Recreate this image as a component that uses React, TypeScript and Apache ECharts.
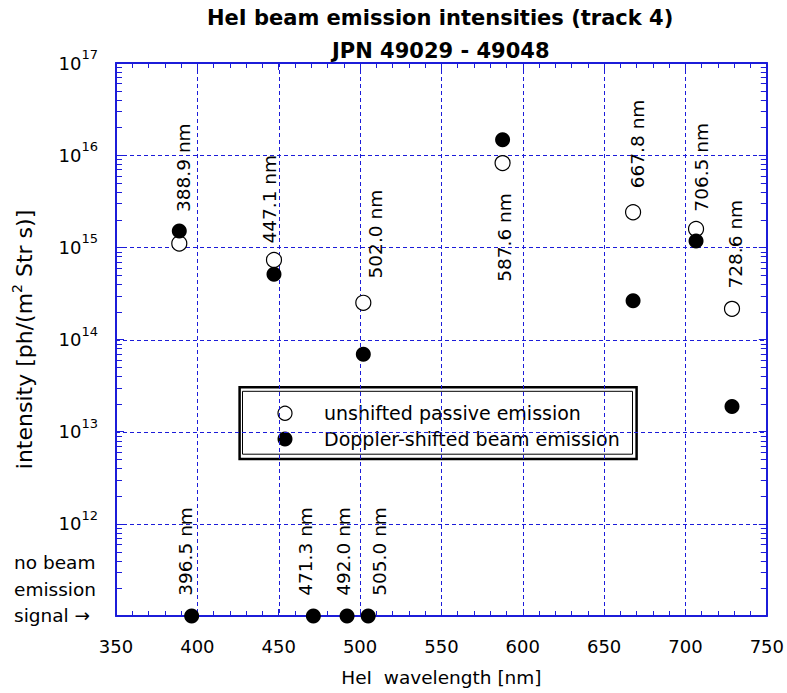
import React, { useEffect, useRef } from "react";
import * as echarts from "echarts";

// ---- data ----
const unshiftedWavelengths = [388.9, 447.1, 502.0, 587.6, 667.8, 706.5, 728.6];
const unshiftedIntensity = [1.1e15, 7.3e14, 2.5e14, 8.2e15, 2.4e15, 1.58e15, 2.15e14];

const beamWavelengths = [388.9, 447.1, 502.0, 587.6, 667.8, 706.5, 728.6];
const beamIntensity = [1.5e15, 5.1e14, 6.9e13, 1.47e16, 2.63e14, 1.17e15, 1.88e13];

// lines with no beam-emission signal, drawn on the bottom axis
const noSignalWavelengths = [396.5, 471.3, 492.0, 505.0];
const noSignalLevel = 1e11;

// wavelength annotations (rotated texts)
const lineLabels = ["388.9 nm", "447.1 nm", "502.0 nm", "587.6 nm", "667.8 nm", "706.5 nm", "728.6 nm", "396.5 nm", "471.3 nm", "492.0 nm", "505.0 nm"];
const lineLabelWavelengths = [388.9, 447.1, 502.0, 587.6, 667.8, 706.5, 728.6, 396.5, 471.3, 492.0, 505.0];
const lineLabelStart = [2.42e15, 1.1e15, 4.6e14, 4.23e14, 4.38e15, 2.44e15, 3.58e14, 1.66e11, 1.66e11, 1.66e11, 1.66e11];
const lineLabelDx = [4, -4, 12, 2, 4, 5, 3, -6, -8, -4, 11];

// axis ticks / grid
const xTickMin = 350;
const xTickMax = 750;
const xTickStep = 50;
const xGridValues = [400, 450, 500, 550, 600, 650, 700];
const yMin = 1e11;
const yMax = 1e17;
const yGridValues = [1e12, 1e13, 1e14, 1e15, 1e16];

const legendNames = ["unshifted passive emission", "Doppler-shifted beam emission"];

export default function App() {
  const ref = useRef<HTMLDivElement>(null);

  useEffect(() => {
    const chart = echarts.init(ref.current!, null, { renderer: "svg" });
    const FONT = '"DejaVu Sans", "Liberation Sans", sans-serif';
    const AXIS = "#1c1cd9";
    const GRID = "#1c1cd9";
    const DASH = 4;
    const GAP = 3;

    const minorY: number[][] = [];
    for (let e = 11; e < 17; e++) {
      for (let k = 2; k <= 9; k++) minorY.push([xTickMin, k * Math.pow(10, e)]);
    }
    const gridData: number[][] = [
      ...xGridValues.map((x) => [x, yMin, 0]),
      ...yGridValues.map((y) => [xTickMin, y, 1]),
    ];

    const axisLine = () => ({ show: true, onZero: false, lineStyle: { color: AXIS, width: 2 } });
    const axisTick = (len: number) => ({ show: true, inside: true, length: len, lineStyle: { color: AXIS, width: 1 } });
    const minorTick = () => ({ show: true, splitNumber: 5, length: 5, lineStyle: { color: AXIS, width: 1 } });
    const noSplit = () => ({ show: false });

    const option: any = {
      animation: false,
      backgroundColor: "#ffffff",
      title: [
        {
          text: "HeI beam emission intensities (track 4)",
          left: 207,
          top: 6,
          padding: 0,
          textStyle: { fontSize: 21, fontWeight: "bold", fontFamily: FONT, color: "#000", lineHeight: 24 },
        },
        {
          text: "JPN 49029 - 49048",
          left: 332,
          top: 39,
          padding: 0,
          textStyle: { fontSize: 21, fontWeight: "bold", fontFamily: FONT, color: "#000", lineHeight: 24 },
        },
      ],
      grid: { left: 116, right: 19, top: 63, bottom: 77 },
      xAxis: [
        {
          type: "value",
          position: "bottom",
          min: xTickMin,
          max: xTickMax,
          interval: xTickStep,
          axisLine: axisLine(),
          axisTick: axisTick(7),
          minorTick: minorTick(),
          splitLine: noSplit(),
          axisLabel: { color: "#000", fontSize: 18, fontFamily: FONT, margin: 21 },
          name: "HeI  wavelength [nm]",
          nameLocation: "middle",
          nameGap: 52,
          nameTextStyle: { color: "#000", fontSize: 18.5, fontFamily: FONT },
        },
        {
          type: "value",
          position: "top",
          min: xTickMin,
          max: xTickMax,
          interval: xTickStep,
          axisLine: axisLine(),
          axisTick: axisTick(7),
          minorTick: minorTick(),
          splitLine: noSplit(),
          axisLabel: { show: false },
        },
      ],
      yAxis: [
        {
          type: "log",
          logBase: 10,
          position: "left",
          min: yMin,
          max: yMax,
          axisLine: axisLine(),
          axisTick: axisTick(8),
          splitLine: noSplit(),
          axisLabel: {
            margin: 18,
            color: "#000",
            fontFamily: FONT,
            formatter: (v: number) => {
              const e = Math.round(Math.log10(v));
              if (e <= 11) return "";
              return `{b|10}{s|${e}}`;
            },
            rich: {
              b: { fontSize: 18, fontFamily: FONT, color: "#000" },
              s: { fontSize: 13, fontFamily: FONT, color: "#000", padding: [0, 0, 17, 0] },
            },
          },
          name: "intensity [ph/(m{sup|2} Str s)]",
          nameLocation: "middle",
          nameRotate: 90,
          nameGap: 77,
          nameTextStyle: {
            color: "#000",
            fontSize: 22,
            fontFamily: FONT,
            rich: { sup: { fontSize: 14, fontFamily: FONT, color: "#000", padding: [0, 0, 15, 0] } },
          },
        },
        {
          type: "log",
          logBase: 10,
          position: "right",
          min: yMin,
          max: yMax,
          axisLine: axisLine(),
          axisTick: axisTick(8),
          splitLine: noSplit(),
          axisLabel: { show: false },
        },
      ],
      series: [
        {
          type: "custom",
          name: "grid lines",
          silent: true,
          z: 1,
          data: gridData,
          renderItem: (params: any, api: any) => {
            const cs = params.coordSys;
            const p = api.coord([api.value(0), api.value(1)]);
            const vertical = api.value(2) === 0;
            const children: any[] = [];
            if (vertical) {
              const x = Math.round(p[0]) + 0.5;
              const end = cs.y + cs.height;
              for (let y = cs.y; y < end; y += DASH + GAP) {
                children.push({ type: "line", shape: { x1: x, y1: y, x2: x, y2: Math.min(y + DASH, end) }, style: { stroke: GRID, lineWidth: 1 } });
              }
            } else {
              const y = Math.round(p[1]) + 0.5;
              const end = cs.x + cs.width;
              for (let x = cs.x; x < end; x += DASH + GAP) {
                children.push({ type: "line", shape: { x1: x, y1: y, x2: Math.min(x + DASH, end), y2: y }, style: { stroke: GRID, lineWidth: 1 } });
              }
            }
            return { type: "group", children };
          },
        },
        {
          type: "custom",
          name: "minor log ticks",
          silent: true,
          z: 3,
          data: minorY,
          renderItem: (params: any, api: any) => {
            const cs = params.coordSys;
            const p = api.coord([api.value(0), api.value(1)]);
            const y = Math.round(p[1]) + 0.5;
            return {
              type: "group",
              children: [
                { type: "line", shape: { x1: cs.x, y1: y, x2: cs.x + 6, y2: y }, style: { stroke: AXIS, lineWidth: 1 } },
                { type: "line", shape: { x1: cs.x + cs.width - 6, y1: y, x2: cs.x + cs.width, y2: y }, style: { stroke: AXIS, lineWidth: 1 } },
              ],
            };
          },
        },
        {
          type: "scatter",
          name: legendNames[0],
          symbol: "circle",
          symbolSize: 15,
          clip: false,
          z: 5,
          itemStyle: { color: "#ffffff", borderColor: "#000000", borderWidth: 1.2, opacity: 1 },
          data: unshiftedWavelengths.map((w, i) => [w, unshiftedIntensity[i]]),
        },
        {
          type: "scatter",
          name: legendNames[1],
          symbol: "circle",
          symbolSize: 15,
          clip: false,
          z: 6,
          itemStyle: { color: "#000000", opacity: 1 },
          data: beamWavelengths.map((w, i) => [w, beamIntensity[i]]),
        },
        {
          type: "scatter",
          name: "no beam emission signal",
          symbol: "circle",
          symbolSize: 15,
          clip: false,
          z: 6,
          itemStyle: { color: "#000000", opacity: 1 },
          data: noSignalWavelengths.map((w) => [w, noSignalLevel]),
        },
        {
          type: "custom",
          name: "line labels",
          silent: true,
          z: 7,
          clip: false,
          data: lineLabels.map((_, i) => [lineLabelWavelengths[i], lineLabelStart[i], i]),
          renderItem: (_params: any, api: any) => {
            const i = api.value(2);
            const p = api.coord([api.value(0), api.value(1)]);
            return {
              type: "text",
              x: p[0] + lineLabelDx[i],
              y: p[1],
              rotation: Math.PI / 2,
              style: {
                text: lineLabels[i],
                fontSize: 18.5,
                fontFamily: FONT,
                fill: "#000",
                align: "left",
                verticalAlign: "middle",
              },
            };
          },
        },
      ],
      graphic: [
        {
          type: "group",
          z: 100,
          children: [
            { type: "rect", shape: { x: 239.6, y: 387.3, width: 397, height: 71.7 }, style: { fill: "#fff", stroke: "#000", lineWidth: 2.5 } },
            { type: "rect", shape: { x: 242.5, y: 391.3, width: 390, height: 62.9 }, style: { fill: "none", stroke: "#000", lineWidth: 1 } },
            { type: "circle", shape: { cx: 285, cy: 413.3, r: 7 }, style: { fill: "#fff", stroke: "#000", lineWidth: 1.2 } },
            { type: "circle", shape: { cx: 285, cy: 439, r: 7.5 }, style: { fill: "#000" } },
            { type: "text", x: 324, y: 413.3, style: { text: legendNames[0], fontSize: 19, fontFamily: FONT, fill: "#000", verticalAlign: "middle", align: "left" } },
            { type: "text", x: 324, y: 439, style: { text: legendNames[1], fontSize: 19, fontFamily: FONT, fill: "#000", verticalAlign: "middle", align: "left" } },
          ],
        },
        {
          type: "text",
          x: 14,
          y: 549.5,
          style: {
            text: "no beam\nemission\nsignal \u2192",
            fontSize: 18.5,
            lineHeight: 26.5,
            fontFamily: FONT,
            fill: "#000",
            align: "left",
            verticalAlign: "top",
          },
        },
      ],
    };

    chart.setOption(option);
    return () => chart.dispose();
  }, []);

  return <div ref={ref} style={{ position: "fixed", left: 0, top: 0, width: 787, height: 693 }} />;
}
